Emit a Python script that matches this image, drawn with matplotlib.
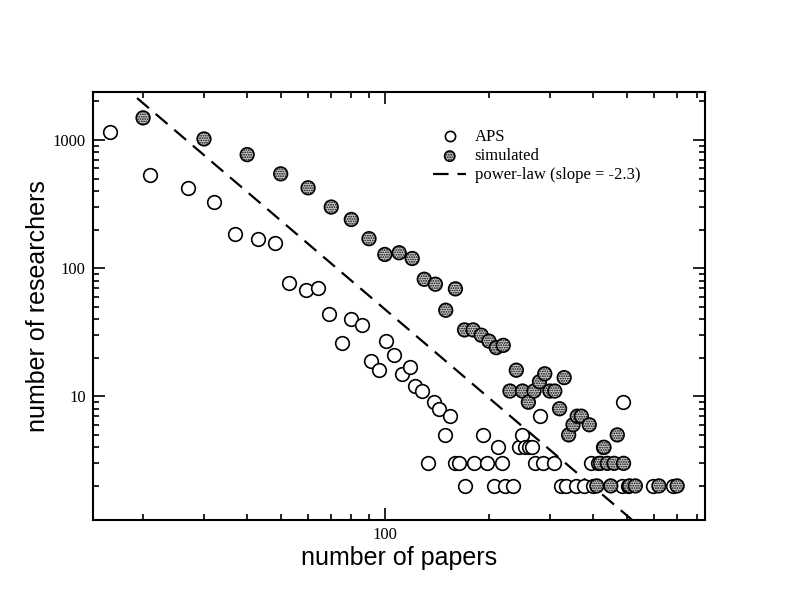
import numpy as np
import matplotlib
matplotlib.use('Agg')
import matplotlib.pyplot as plt
from matplotlib.ticker import LogLocator, NullFormatter, FixedLocator, FixedFormatter

# APS data: papers per researcher vs number of researchers
aps_papers = [16, 21, 27, 32, 37, 43, 48, 53, 59, 64, 69, 75, 80, 86, 91, 96,
              101, 106, 112, 118, 122, 128, 133, 139, 143, 149, 154, 160, 164,
              171, 181, 192, 198, 207, 213, 218, 223, 235, 244, 249, 254, 261,
              267, 271, 281, 287, 309, 324, 335, 356, 377, 394, 400, 412, 428,
              484, 489, 504, 596, 680]
aps_researchers = [1160, 530, 420, 330, 185, 170, 158, 77, 68, 70, 44, 26, 40,
                   36, 19, 16, 27, 21, 15, 17, 12, 11, 3, 9, 8, 5, 7, 3, 3,
                   2, 3, 5, 3, 2, 4, 3, 2, 2, 4, 5, 4, 4,
                   4, 3, 7, 3, 3, 2, 2, 2, 2, 3, 2, 3, 4,
                   2, 9, 2, 2, 2]

# simulated data
sim_papers = [20, 30, 40, 50, 60, 70, 80, 90, 100, 110, 120, 130, 140, 150,
              160, 170, 180, 190, 200, 210, 220, 230, 240, 250, 260, 270, 280,
              290, 300, 310, 320, 330, 340, 350, 360, 370, 390, 410, 420, 430,
              440, 450, 460, 470, 490, 510, 530, 620, 700]
sim_researchers = [1490, 1020, 770, 545, 424, 300, 240, 170, 128, 132, 119,
                   82, 75, 47, 69, 33, 33, 30, 27, 24, 25, 11, 16, 11, 9, 11,
                   13, 15, 11, 11, 8, 14, 5, 6, 7, 7, 6, 2, 3, 4,
                   3, 2, 3, 5, 3, 2, 2, 2, 2]

# power-law guide line
slope = -2.3
log_prefactor = 6.28
fit_range = [15, 800]

plt.rcParams['hatch.linewidth'] = 0.9

fig = plt.figure(figsize=(7.92, 6.12), dpi=100)
ax = fig.add_axes([0.117, 0.150, 0.773, 0.700])

ax.plot(aps_papers, aps_researchers, 'o', linestyle='none', markersize=9.8,
        markerfacecolor='white', markeredgecolor='black', markeredgewidth=1.2,
        label='APS', zorder=3)
ax.scatter(sim_papers, sim_researchers, s=96, facecolor='#d0d0d0',
           edgecolor='black', linewidth=1.2, hatch='.......',
           label='simulated', zorder=4)

fit_x = np.array(fit_range, dtype=float)
fit_y = 10 ** log_prefactor * fit_x ** slope
ax.plot(fit_x, fit_y, color='black', linewidth=1.6, dashes=(7, 4),
        label='power-law (slope = -2.3)', zorder=2)

ax.set_xscale('log')
ax.set_yscale('log')
ax.set_xlim(14.3, 842)
ax.set_ylim(1.08, 2380)

# Grace style ticks: inward on all four sides
ax.xaxis.set_major_locator(FixedLocator([100]))
ax.xaxis.set_major_formatter(FixedFormatter(['100']))
ax.yaxis.set_major_locator(FixedLocator([10, 100, 1000]))
ax.yaxis.set_major_formatter(FixedFormatter(['10', '100', '1000']))
for axis in (ax.xaxis, ax.yaxis):
    axis.set_minor_locator(LogLocator(base=10, subs=range(2, 10), numticks=20))
    axis.set_minor_formatter(NullFormatter())
ax.tick_params(which='both', direction='in', top=True, right=True,
               width=1.2, labelsize=12, pad=5)
ax.tick_params(which='major', length=8.5)
ax.tick_params(which='minor', length=4.5)
for label in ax.get_xticklabels() + ax.get_yticklabels():
    label.set_family('Liberation Serif')
for spine in ax.spines.values():
    spine.set_linewidth(1.5)

ax.set_xlabel('number of papers', fontsize=18, family='Liberation Sans',
              labelpad=2)
ax.set_ylabel('number of researchers', fontsize=18, family='Liberation Sans',
              labelpad=2)

ax.legend(loc='upper left', bbox_to_anchor=(0.556, 0.912), frameon=False,
          prop={'family': 'Liberation Serif', 'size': 12},
          borderpad=0, borderaxespad=0, handlelength=2.0,
          handletextpad=0.5, labelspacing=0.18, markerscale=0.75,
          scatterpoints=1, numpoints=1)

fig.savefig('out.png', dpi=100)
